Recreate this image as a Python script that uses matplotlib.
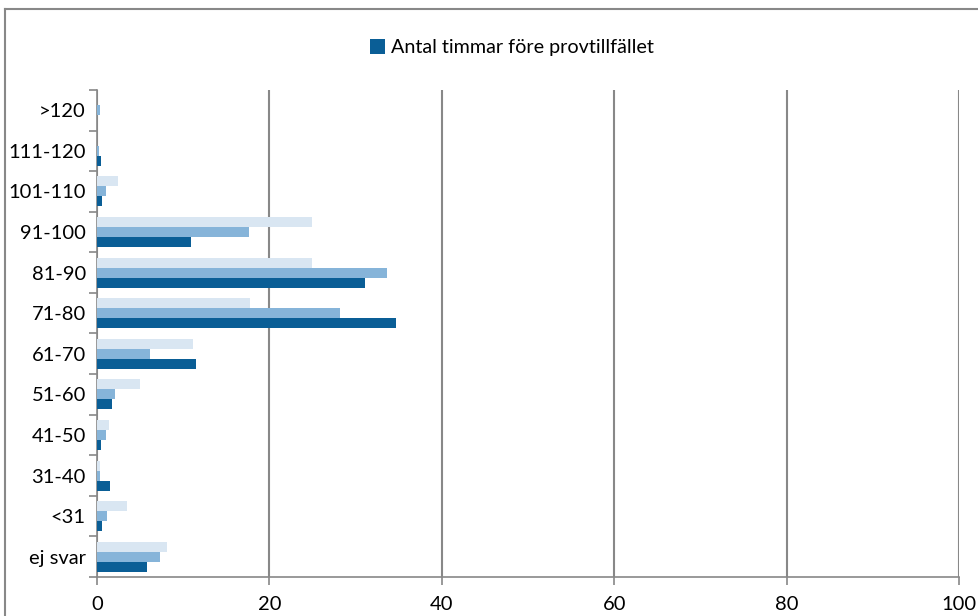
import matplotlib.pyplot as plt
import numpy as np
from matplotlib.lines import Line2D

plt.rcParams['font.family'] = ['Lato', 'DejaVu Sans']

# Kategorier (nerifrån och upp som i Excel)
kategorier = ['ej svar', '<31', '31-40', '41-50', '51-60', '61-70',
              '71-80', '81-90', '91-100', '101-110', '111-120', '>120']

# Serie 1 (mörkblå) - den enda som står i förklaringen
timmar_fore = [5.8, 0.6, 1.5, 0.45, 1.75, 11.5, 34.7, 31.1, 10.9, 0.6, 0.45, 0.0]
# Serie 2 (mellanblå)
serie2 = [7.3, 1.2, 0.4, 1.1, 2.1, 6.1, 28.2, 33.7, 17.6, 1.05, 0.25, 0.35]
# Serie 3 (ljusblå)
serie3 = [8.1, 3.5, 0.4, 1.45, 5.0, 11.2, 17.8, 24.9, 24.9, 2.5, 0.0, 0.0]

xticks = [0, 20, 40, 60, 80, 100]

fig = plt.figure(figsize=(9.79, 6.16), dpi=100)
ax = fig.add_axes([0.099, 0.0633, 0.8806, 0.7907])

y = np.arange(len(kategorier))
h = 0.246
ax.barh(y - h, timmar_fore, height=h, color='#0a5e96', label='Antal timmar före provtillfället', zorder=3)
ax.barh(y, serie2, height=h, color='#86b4d9', zorder=3)
ax.barh(y + h, serie3, height=h, color='#d9e6f2', zorder=3)

ax.set_xlim(0, 100)
ax.set_ylim(-0.5, len(kategorier) - 0.5)
ax.set_xticks(xticks)
ax.set_yticks(y)
ax.set_yticklabels(kategorier)
ax.set_yticks(np.arange(-0.5, len(kategorier)), minor=True)
ax.tick_params(axis='y', which='major', length=0, pad=8, labelsize=14.5)
ax.tick_params(axis='y', which='minor', length=6, color='#888888', width=1.2)
ax.tick_params(axis='x', length=6, color='#888888', width=1.2, labelsize=14.5, pad=8)

ax.grid(axis='x', color='#888888', linewidth=1.5, zorder=0)
for s in ['top', 'right']:
    ax.spines[s].set_visible(False)
for s in ['left', 'bottom']:
    ax.spines[s].set_color('#888888')
    ax.spines[s].set_linewidth(1.2)

fig.legend(loc='upper center', bbox_to_anchor=(0.523, 0.965), frameon=False,
           fontsize=14.2, handlelength=0.75, handleheight=0.75, handletextpad=0.3)

# ram runt diagrammet (bara överkant och vänsterkant syns)
fig.add_artist(Line2D([0.005, 1.0], [0.985, 0.985], transform=fig.transFigure,
                      color='#888888', linewidth=1.5))
fig.add_artist(Line2D([0.005, 0.005], [0.0, 0.985], transform=fig.transFigure,
                      color='#888888', linewidth=1.5))

fig.savefig('out.png', dpi=100)
